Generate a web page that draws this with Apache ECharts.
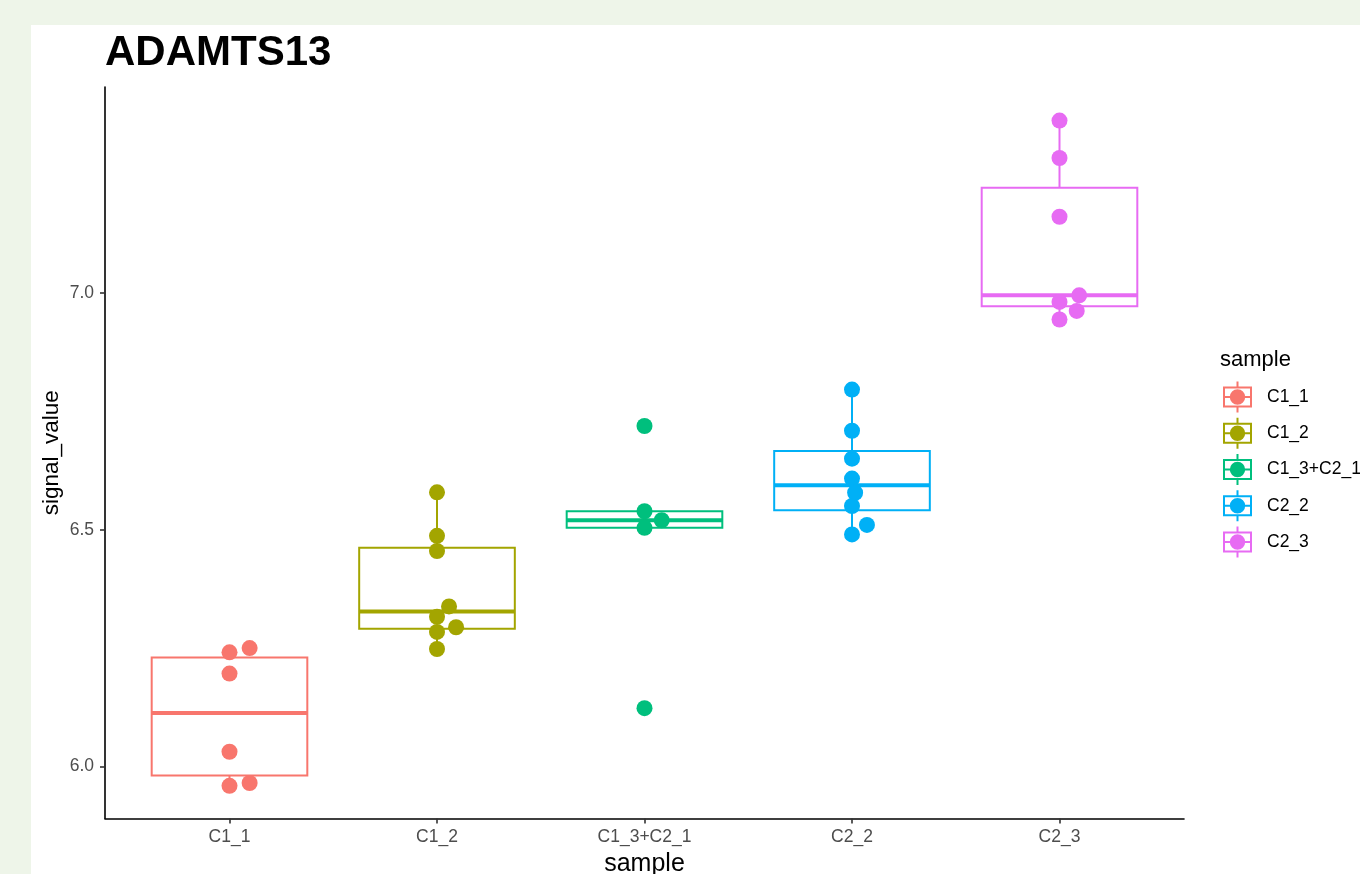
<!DOCTYPE html>
<html>
<head>
<meta charset="utf-8">
<script src="https://cdn.jsdelivr.net/npm/echarts@6/dist/echarts.min.js"></script>
<style>
  html, body { margin: 0; padding: 0; background: #EEF5E9; }
  #panel { position: absolute; left: 31px; top: 25px; width: 1329px; height: 849px; background: #ffffff; }
  #chart { position: absolute; left: 0; top: 0; width: 1360px; height: 874px; }
</style>
</head>
<body>
<div id="panel"></div>
<div id="chart"></div>
<script>
// ---- data ----
const categories = ['C1_1', 'C1_2', 'C1_3+C2_1', 'C2_2', 'C2_3'];
const colors = ['#F8766D', '#A3A500', '#00BF7D', '#00B0F6', '#E76BF3'];
const yTicks = [6.0, 6.5, 7.0];

// box statistics per category (lower whisker, Q1, median, Q3, upper whisker)
const boxLow    = [5.959, 6.248, 6.504, 6.490, 6.944];
const boxQ1     = [5.981, 6.291, 6.504, 6.541, 6.972];
const boxMedian = [6.113, 6.327, 6.520, 6.594, 6.995];
const boxQ3     = [6.230, 6.462, 6.539, 6.666, 7.222];
const boxHigh   = [6.250, 6.579, 6.539, 6.796, 7.364];

// individual samples and their horizontal jitter (in category units)
const pointsC1_1 = [6.250, 6.241, 6.196, 6.031, 5.965, 5.959];
const jitterC1_1 = [0.097, 0, 0, 0, 0.097, 0];
const pointsC1_2 = [6.579, 6.487, 6.455, 6.338, 6.316, 6.294, 6.284, 6.248];
const jitterC1_2 = [0, 0, 0, 0.058, 0, 0.092, 0, 0];
const pointsC1_3 = [6.719, 6.539, 6.520, 6.504, 6.123];
const jitterC1_3 = [0, 0, 0.083, 0, 0];
const pointsC2_2 = [6.796, 6.709, 6.650, 6.608, 6.578, 6.550, 6.510, 6.490];
const jitterC2_2 = [0, 0, 0, 0, 0.015, 0, 0.072, 0];
const pointsC2_3 = [7.364, 7.285, 7.161, 6.995, 6.981, 6.962, 6.944];
const jitterC2_3 = [0, 0, 0, 0.095, 0, 0.083, 0];

const allPoints = [pointsC1_1, pointsC1_2, pointsC1_3, pointsC2_2, pointsC2_3];
const allJitter = [jitterC1_1, jitterC1_2, jitterC1_3, jitterC2_2, jitterC2_3];

// ---- chart ----
const FONT = '"Liberation Sans", Arial, Helvetica, sans-serif';
const BOX_WIDTH = 0.75;

const legendIcon = 'path://M0 5 L29 5 L29 26 L0 26 Z M2 7 L2 24 L27 24 L27 7 Z ' +
  'M2 14.5 L27 14.5 L27 16.5 L2 16.5 Z ' +
  'M13.5 0 L15.5 0 L15.5 5 L13.5 5 Z M13.5 26 L15.5 26 L15.5 31 L13.5 31 Z ' +
  'M6.8 15.5 A7.7 7.7 0 1 1 22.2 15.5 A7.7 7.7 0 1 1 6.8 15.5 Z';

function renderBox(params, api) {
  const x = api.value(0);
  const lo = api.coord([x, api.value(1)]);
  const q1 = api.coord([x, api.value(2)]);
  const md = api.coord([x, api.value(3)]);
  const q3 = api.coord([x, api.value(4)]);
  const hi = api.coord([x, api.value(5)]);
  const half = api.size([BOX_WIDTH, 0])[0] / 2;
  const color = api.visual('color');
  const stroke = { stroke: color, lineWidth: 2, fill: null };
  return {
    type: 'group',
    children: [
      { type: 'line', shape: { x1: q3[0], y1: q3[1], x2: hi[0], y2: hi[1] }, style: stroke },
      { type: 'line', shape: { x1: q1[0], y1: q1[1], x2: lo[0], y2: lo[1] }, style: stroke },
      { type: 'rect', shape: { x: q3[0] - half, y: q3[1], width: half * 2, height: q1[1] - q3[1] },
        style: { stroke: color, lineWidth: 2, fill: '#ffffff' } },
      { type: 'line', shape: { x1: md[0] - half, y1: md[1], x2: md[0] + half, y2: md[1] },
        style: { stroke: color, lineWidth: 4 } }
    ]
  };
}

const series = [];
categories.forEach((name, i) => {
  series.push({
    type: 'custom',
    name: name,
    renderItem: renderBox,
    itemStyle: { color: colors[i] },
    encode: { x: 0, y: [1, 2, 3, 4, 5] },
    data: [[i + 1, boxLow[i], boxQ1[i], boxMedian[i], boxQ3[i], boxHigh[i]]],
    z: 2,
    silent: true
  });
});
categories.forEach((name, i) => {
  series.push({
    type: 'scatter',
    name: name,
    symbol: 'circle',
    symbolSize: 16,
    itemStyle: { color: colors[i], opacity: 1 },
    data: allPoints[i].map((v, k) => [i + 1 + allJitter[i][k], v]),
    z: 3
  });
});

const chart = echarts.init(document.getElementById('chart'), null, { renderer: 'canvas' });
chart.setOption({
  animation: false,
  backgroundColor: 'transparent',
  title: [
    { text: 'ADAMTS13', left: 105, top: 32, padding: 0,
      textStyle: { fontFamily: FONT, fontSize: 42, fontWeight: 'bold', color: '#000000' } },
    { text: 'sample', left: 1220, top: 349, padding: 0,
      textStyle: { fontFamily: FONT, fontSize: 22, fontWeight: 'normal', color: '#000000' } }
  ],
  legend: {
    orient: 'vertical',
    left: 1223,
    top: 381.5,
    padding: 0,
    itemWidth: 29,
    itemHeight: 31,
    itemGap: 5.25,
    icon: legendIcon,
    data: categories,
    selectedMode: false,
    textStyle: { fontFamily: FONT, fontSize: 17.5, color: '#000000', padding: [0, 0, 0, 10] }
  },
  grid: { left: 105, right: 176, top: 87, bottom: 55.5, containLabel: false, outerBoundsMode: 'none' },
  xAxis: {
    type: 'value',
    min: 0.4,
    max: 5.6,
    name: 'sample',
    nameLocation: 'middle',
    nameGap: 30,
    nameTextStyle: { fontFamily: FONT, fontSize: 25, color: '#000000' },
    splitLine: { show: false },
    axisLine: { show: true, onZero: false, lineStyle: { color: '#000000', width: 1.6 } },
    axisTick: { show: true, length: 5, customValues: [1, 2, 3, 4, 5], lineStyle: { color: '#333333', width: 1.6 } },
    axisLabel: {
      customValues: [1, 2, 3, 4, 5],
      margin: 10,
      fontFamily: FONT, fontSize: 17.5, color: '#4D4D4D',
      formatter: v => categories[Math.round(v) - 1]
    }
  },
  yAxis: {
    type: 'value',
    min: 5.890,
    max: 7.435,
    name: 'signal_value',
    nameLocation: 'middle',
    nameGap: 42,
    nameMoveOverlap: false,
    nameRotate: 90,
    nameTextStyle: { fontFamily: FONT, fontSize: 22.5, color: '#000000' },
    splitLine: { show: false },
    axisLine: { show: true, onZero: false, lineStyle: { color: '#000000', width: 1.6 } },
    axisTick: { show: true, length: 5, customValues: yTicks, lineStyle: { color: '#333333', width: 1.6 } },
    axisLabel: {
      customValues: yTicks,
      margin: 11,
      fontFamily: FONT, fontSize: 17.5, color: '#4D4D4D',
      formatter: v => v.toFixed(1)
    }
  },
  series: series
});
</script>
</body>
</html>
